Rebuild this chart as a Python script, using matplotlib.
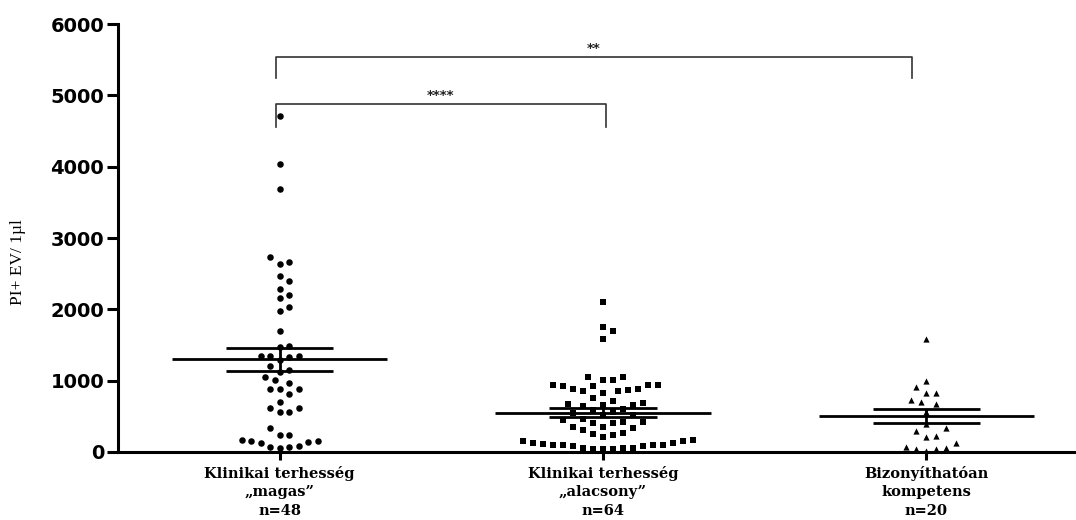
import matplotlib.pyplot as plt
import numpy as np

# adatok (leolvasva az abrarol)
group_labels = ['Klinikai terhesség\n„magas”\nn=48',
                'Klinikai terhesség\n„alacsony”\nn=64',
                'Bizonyíthatóan\nkompetens\nn=20']

magas = [4712, 4035, 3693, 2739, 2669, 2637, 2473, 2398, 2290, 2206, 2155,
         2034, 1978, 1702, 1491, 1477, 1350, 1346, 1342, 1338, 1290, 1206,
         1150, 1127, 1057, 1010, 972, 879, 879, 879, 809, 706, 622, 622,
         565, 565, 332, 238, 238, 168, 159, 154, 144, 121, 84, 74, 74, 51]

alacsony = [2100, 1749, 1697, 1589, 1052, 1052, 1014, 1014, 944, 944, 944,
            926, 926, 888, 884, 870, 855, 855, 832, 753, 720, 687, 673, 664,
            664, 645, 600, 590, 560, 540, 520, 514, 458, 449, 425, 421, 411,
            402, 350, 350, 341, 313, 266, 257, 243, 206, 168, 154, 154, 130,
            126, 112, 102, 102, 94, 80, 80, 56, 56, 56, 47, 47, 47, 102]

kompetens = [1581, 994, 917, 833, 833, 733, 696, 666, 560, 393, 335, 288,
             231, 216, 122, 74, 60, 36, 36, 18]

means = [1300, 551, 505]
sems = [162, 60, 94]

yticks = [0, 1000, 2000, 3000, 4000, 5000, 6000]

fig = plt.figure(figsize=(10.76, 5.2), dpi=100)
ax = fig.add_axes([0.1097, 0.1308, 0.8903, 0.823])

ax.set_xlim(0.5, 3.463)
ax.set_ylim(0, 6000)

# pixel-skala a swarm-hoz
px_per_x = 323.0
px_per_y = 428.0 / 6000


def swarm(values, d, step):
    vals = np.sort(np.asarray(values, dtype=float))
    placed = []
    offs = []
    for v in vals:
        yp = v * px_per_y
        k = 0
        while True:
            cands = [0.0] if k == 0 else [k * step, -k * step]
            ok = None
            for c in cands:
                if all((c - px) ** 2 + (yp - py) ** 2 >= d ** 2 for px, py in placed):
                    ok = c
                    break
            if ok is not None:
                break
            k += 1
        placed.append((ok, yp))
        offs.append(ok / px_per_x)
    return vals, np.array(offs)


data = [magas, alacsony, kompetens]
markers = ['o', 's', '^']
msizes = [22, 16, 20]
dists = [9.5, 10.0, 10.0]

for i, (vals, m, s, dd) in enumerate(zip(data, markers, msizes, dists)):
    v, off = swarm(vals, dd, dd / 2)
    ax.scatter(i + 1 + off, v, marker=m, s=s, color='black', linewidths=0, zorder=3)
    # atlag + SEM
    ax.hlines(means[i], i + 1 - 0.333, i + 1 + 0.333, color='black', lw=2, zorder=4)
    ax.hlines([means[i] - sems[i], means[i] + sems[i]], i + 1 - 0.166, i + 1 + 0.166,
              color='black', lw=2, zorder=4)
    ax.vlines(i + 1, means[i] - sems[i], means[i] + sems[i], color='black', lw=2, zorder=4)

# szignifikancia
brackets = [(0.988, 2.01, 4880, 4560, '****'), (0.988, 2.955, 5540, 5245, '**')]
for x1, x2, yt, yb, lab in brackets:
    ax.plot([x1, x1, x2, x2], [yb, yt, yt, yb], color='#333333', lw=1.2, clip_on=False)
    ax.text((x1 + x2) / 2, yt + 30, lab, ha='center', va='bottom',
            fontsize=9.5, fontweight='bold', color='#222222')

ax.spines['top'].set_visible(False)
ax.spines['right'].set_visible(False)
ax.spines['left'].set_linewidth(2.2)
ax.spines['bottom'].set_linewidth(2.2)

ax.set_yticks(yticks)
ax.set_yticklabels([str(t) for t in yticks], fontsize=14, fontweight='bold',
                   family='DejaVu Sans')
ax.tick_params(axis='y', length=8, width=2.2, pad=2)
ax.set_xticks([1, 2, 3])
ax.set_xticklabels(group_labels, fontsize=10.5, fontweight='bold', family='DejaVu Serif',
                   linespacing=1.4)
ax.tick_params(axis='x', length=6, width=2.2, pad=4)

ax.set_ylabel('PI+ EV/ 1µl', fontsize=12.5, family='Liberation Serif')
ax.yaxis.set_label_coords(-0.096, 0.444)

fig.savefig('out.png', dpi=100)
